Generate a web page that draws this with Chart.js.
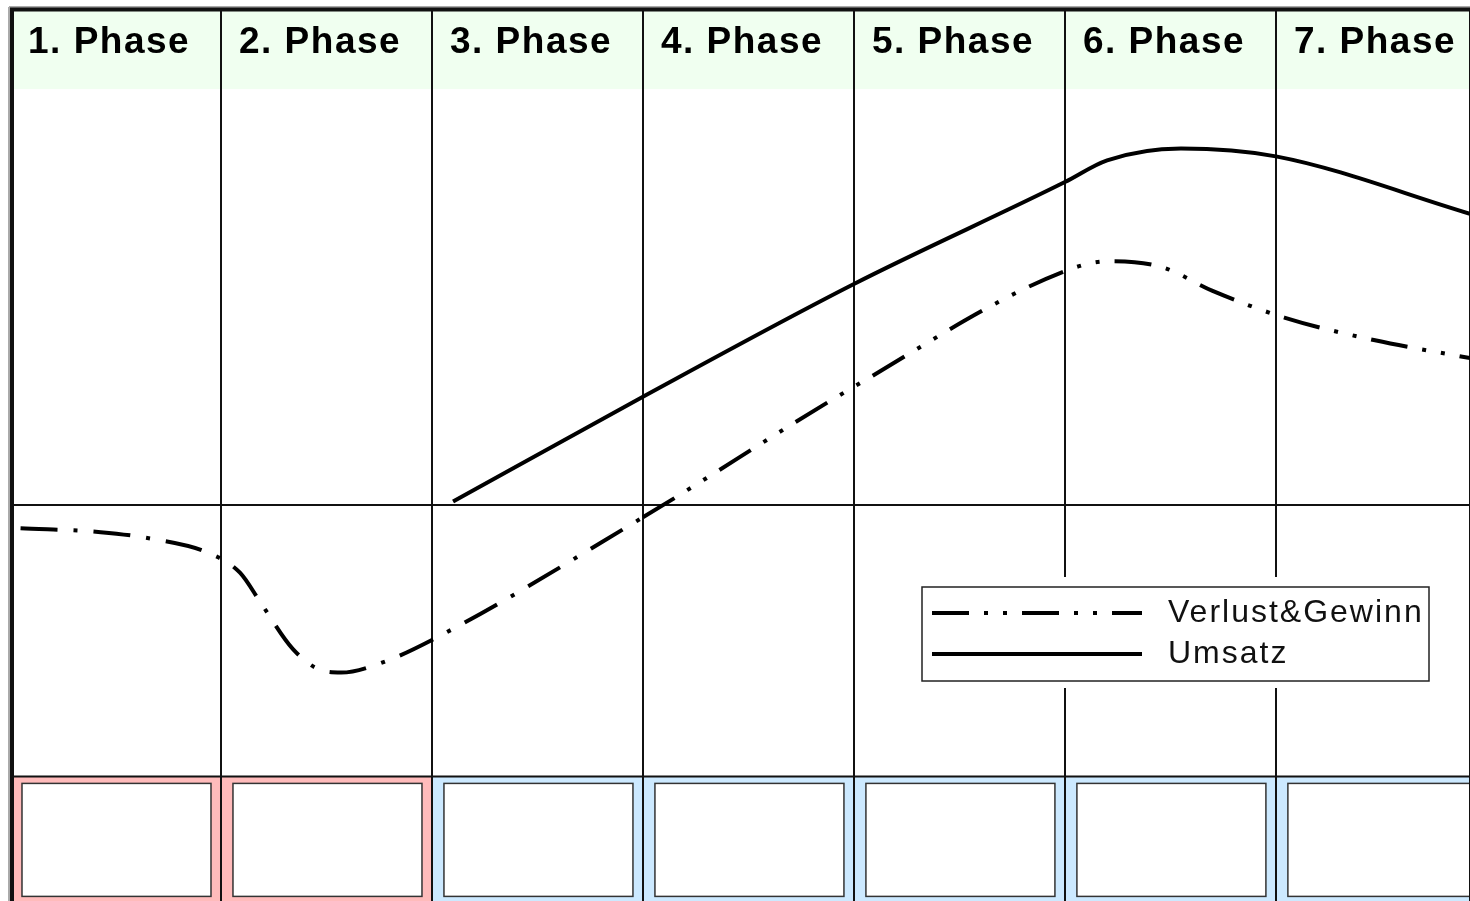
<!DOCTYPE html>
<html lang="de">

<head>
    <meta charset="UTF-8">
    <title>Phasen</title>
    <script src="https://cdn.jsdelivr.net/npm/chart.js"></script>
    <style>
        html, body { margin: 0; padding: 0; background: #fff; overflow: hidden; }
        #wrap { width: 1470px; height: 901px; }
    </style>
</head>

<body>
    <div id="wrap">
        <canvas id="grafico" width="1470" height="901"></canvas>
    </div>

<script>
    // Phasen (Spaltenköpfe)
    const phasen = ['1. Phase', '2. Phase', '3. Phase', '4. Phase', '5. Phase', '6. Phase', '7. Phase'];

    // Umsatz (durchgezogene Linie)
    const umsatzX = [2.10, 3.00, 4.00, 5.00, 5.20, 5.55, 6.00, 6.92];
    const umsatzY = [0.04, 1.10, 2.24, 3.27, 3.49, 3.61, 3.53, 2.95];

    // Verlust & Gewinn (strich-punkt Linie)
    const verlustX = [0.05, 0.43, 0.68, 0.94, 1.09, 1.19, 1.34, 1.48, 1.57, 1.75, 2.00, 3.00, 4.00, 5.00, 5.21, 5.46, 5.70, 6.04, 6.47, 6.92];
    const verlustY = [-0.23, -0.27, -0.34, -0.48, -0.68, -0.99, -1.45, -1.67, -1.69, -1.60, -1.36, -0.12, 1.20, 2.37, 2.47, 2.41, 2.17, 1.90, 1.67, 1.49];

    const legendeTexte = ['Verlust&Gewinn', 'Umsatz'];

    // Aussehen
    const zellFarben = ['#ffbbbb', '#ffbbbb', '#cce9ff', '#cce9ff', '#cce9ff', '#cce9ff', '#cce9ff'];
    const kopfBis = 4.21;     // Unterkante der grünen Kopfzeile (y-Wert)
    const fussAb = -2.74;     // Oberkante der unteren Kästchen (y-Wert)
    const strichPunkt = [37, 16, 4, 16];
    const strichPunktPunkt = [37, 15, 4, 15, 4, 15];

    function punkte(xs, ys) {
        return xs.map((v, i) => ({ x: v, y: ys[i] }));
    }

    const rahmen = {
        id: 'rahmen',
        beforeDraw(chart) {
            const { ctx, chartArea: a, scales: { x, y } } = chart;
            const kb = y.getPixelForValue(kopfBis);
            const fa = y.getPixelForValue(fussAb);
            ctx.save();
            ctx.fillStyle = '#fff';
            ctx.fillRect(0, 0, chart.width, chart.height);
            // Kopfzeile
            ctx.fillStyle = '#f0fff0';
            ctx.fillRect(a.left, a.top, a.right - a.left, kb - a.top);
            // untere Kästchen
            phasen.forEach((p, i) => {
                const l = x.getPixelForValue(i);
                const r = x.getPixelForValue(i + 1);
                ctx.fillStyle = zellFarben[i];
                ctx.fillRect(l, fa, r - l, chart.height - fa);
                const bw = 189;
                const bx = (l + r) / 2 - bw / 2 + 1;
                ctx.fillStyle = '#fff';
                ctx.fillRect(bx, fa + 7, bw, 113);
                ctx.strokeStyle = '#333';
                ctx.lineWidth = 1.5;
                ctx.strokeRect(bx, fa + 7, bw, 113);
            });
            ctx.restore();
        },
        afterDraw(chart) {
            const { ctx, chartArea: a, scales: { x, y } } = chart;
            const fa = y.getPixelForValue(fussAb);
            ctx.save();

            // Linie über den Kästchen
            ctx.strokeStyle = '#111';
            ctx.lineWidth = 2;
            ctx.beginPath();
            ctx.moveTo(a.left, fa);
            ctx.lineTo(a.right, fa);
            ctx.stroke();

            // Rand oben und links
            ctx.strokeStyle = '#aaa';
            ctx.lineWidth = 2;
            ctx.beginPath();
            ctx.moveTo(9, 7); ctx.lineTo(9, chart.height);
            ctx.moveTo(9, 7); ctx.lineTo(chart.width, 7);
            ctx.stroke();
            ctx.strokeStyle = '#111';
            ctx.lineWidth = 4;
            ctx.beginPath();
            ctx.moveTo(12, 9.5); ctx.lineTo(12, chart.height);
            ctx.moveTo(10, 9.5); ctx.lineTo(chart.width, 9.5);
            ctx.stroke();

            // Phasen-Texte
            ctx.fillStyle = '#000';
            ctx.font = 'bold 37px "Liberation Sans", Arial, sans-serif';
            ctx.letterSpacing = '1.5px';
            ctx.textBaseline = 'alphabetic';
            ctx.textAlign = 'left';
            phasen.forEach((p, i) => {
                ctx.fillText(p, x.getPixelForValue(i) + 18, 53);
            });

            // Legende
            ctx.fillStyle = '#fff';
            ctx.fillRect(912, 577, 537, 111);
            ctx.strokeStyle = '#222';
            ctx.lineWidth = 1.5;
            ctx.strokeRect(922, 587, 507, 94);

            const ds = chart.data.datasets;
            const zeilen = [613, 654];
            ds.forEach((d, i) => {
                ctx.strokeStyle = '#000';
                ctx.lineWidth = d.borderWidth;
                ctx.setLineDash(i === 0 ? strichPunktPunkt : []);
                ctx.beginPath();
                ctx.moveTo(932, zeilen[i]);
                ctx.lineTo(1142, zeilen[i]);
                ctx.stroke();
            });
            ctx.setLineDash([]);
            ctx.fillStyle = '#111';
            ctx.font = '32px "Liberation Sans", Arial, sans-serif';
            ctx.letterSpacing = '2px';
            ctx.textBaseline = 'middle';
            legendeTexte.forEach((t, i) => {
                ctx.fillText(t, 1168, zeilen[i]);
            });
            ctx.restore();
        }
    };

    const grafico = new Chart(document.getElementById('grafico'), {
        type: 'line',
        data: {
            datasets: [{
                label: legendeTexte[0],
                data: punkte(verlustX, verlustY),
                borderColor: '#000',
                borderWidth: 4,
                pointRadius: 0,
                cubicInterpolationMode: 'monotone',
                borderDash: strichPunktPunkt,
                segment: {
                    borderDash: c => c.p0.parsed.x < 3 ? strichPunkt : strichPunktPunkt
                }
            }, {
                label: legendeTexte[1],
                data: punkte(umsatzX, umsatzY),
                borderColor: '#000',
                borderWidth: 4,
                pointRadius: 0,
                cubicInterpolationMode: 'monotone'
            }]
        },
        options: {
            responsive: false,
            animation: false,
            devicePixelRatio: 1,
            layout: { padding: { left: 10, top: 11, right: 0, bottom: 0 } },
            plugins: {
                legend: { display: false },
                tooltip: { enabled: false }
            },
            scales: {
                x: {
                    type: 'linear',
                    min: 0,
                    max: 6.92,
                    ticks: { display: false, stepSize: 1 },
                    grid: {
                        drawTicks: false,
                        color: c => c.tick.value === 0 ? 'rgba(0,0,0,0)' : '#111',
                        lineWidth: 2
                    },
                    border: { display: false }
                },
                y: {
                    min: -4,
                    max: 5,
                    ticks: { display: false, stepSize: 1 },
                    grid: {
                        drawTicks: false,
                        color: c => c.tick.value === 0 ? '#111' : 'rgba(0,0,0,0)',
                        lineWidth: 2
                    },
                    border: { display: false }
                }
            }
        },
        plugins: [rahmen]
    });
</script>
</body>

</html>
